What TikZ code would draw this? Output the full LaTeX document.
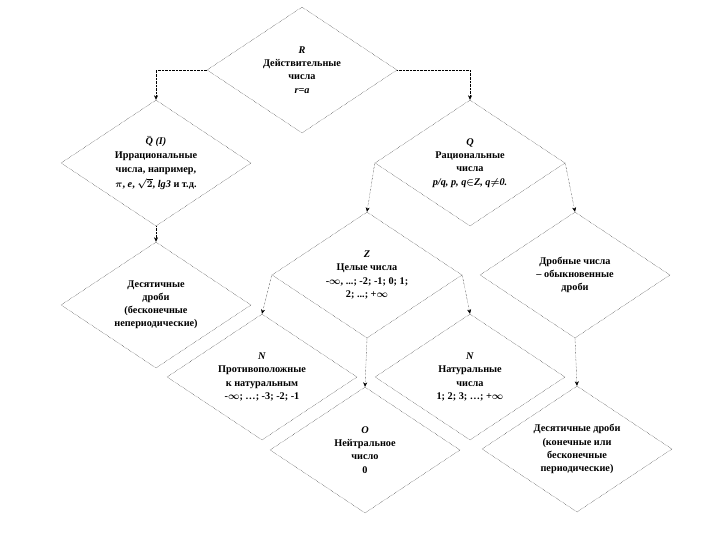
\documentclass[tikz,border=0pt]{standalone}
\usepackage{fontspec}
\usepackage{amsmath}
\setmainfont{Liberation Serif}
\usetikzlibrary{shapes.geometric, arrows.meta}

\begin{document}
\begin{tikzpicture}[x=1bp, y=-1bp,
  block/.style={draw, densely dotted, thin, shape=diamond, aspect=1.5,
    minimum width=190bp, minimum height=126bp, inner sep=0pt, align=center,
    font=\fontsize{10.3}{13.2}\selectfont\bfseries\boldmath},
  conn/.style={densely dotted, thin, -{Stealth[length=4.5pt, width=4pt]}}]
\useasboundingbox (0,0) rectangle (720,540);

% first level
\node[block] (real) at (302,70) {\textit{R}\\Действительные\\числа\\\textit{r=a}};
\node[block] (irr) at (156,163) {$\bar{\text{\textit{Q}}}$ \textit{(I)}\\[1pt]Иррациональные\\числа, например,\\[2pt]$\pi$, \textit{e}, $\sqrt{2}$, \textit{lg3} и т.д.};
\node[block] (rat) at (470,163) {\textit{Q}\\Рациональные\\числа\\\textit{p/q, p, q}$\in$\textit{Z, q}$\neq$\textit{0.}};

% second level
\node[block] (decinf) at (156,305) {Десятичные\\дроби\\(бесконечные\\непериодические)};
\node[block] (int) at (367,275) {\textit{Z}\\Целые числа\\-$\infty$, ...; -2; -1; 0; 1;\\2; ...; +$\infty$};
\node[block] (frac) at (575,275) {Дробные числа\\– обыкновенные\\дроби};

% third level
\node[block] (negnat) at (262,377) {\textit{N}\\Противоположные\\к натуральным\\-$\infty$; …; -3; -2; -1};
\node[block] (nat) at (470,377) {\textit{N}\\Натуральные\\числа\\1; 2; 3; …; +$\infty$};
\node[block] (zero) at (365,450) {\textit{O}\\Нейтральное\\число\\0};
\node[block] (decfin) at (577,449) {Десятичные дроби\\(конечные или\\бесконечные\\периодические)};

% connectors
\draw[conn] (real.west) -| (irr.north);
\draw[conn] (real.east) -| (rat.north);
\draw[conn] (irr.south) -- (decinf.north);
\draw[conn] (rat.west) -- (int.north);
\draw[conn] (rat.east) -- (frac.north);
\draw[conn] (int.west) -- (negnat.north);
\draw[conn] (int.east) -- (nat.north);
\draw[conn] (int.south) -- (zero.north);
\draw[conn] (frac.south) -- (decfin.north);
\end{tikzpicture}
\end{document}
